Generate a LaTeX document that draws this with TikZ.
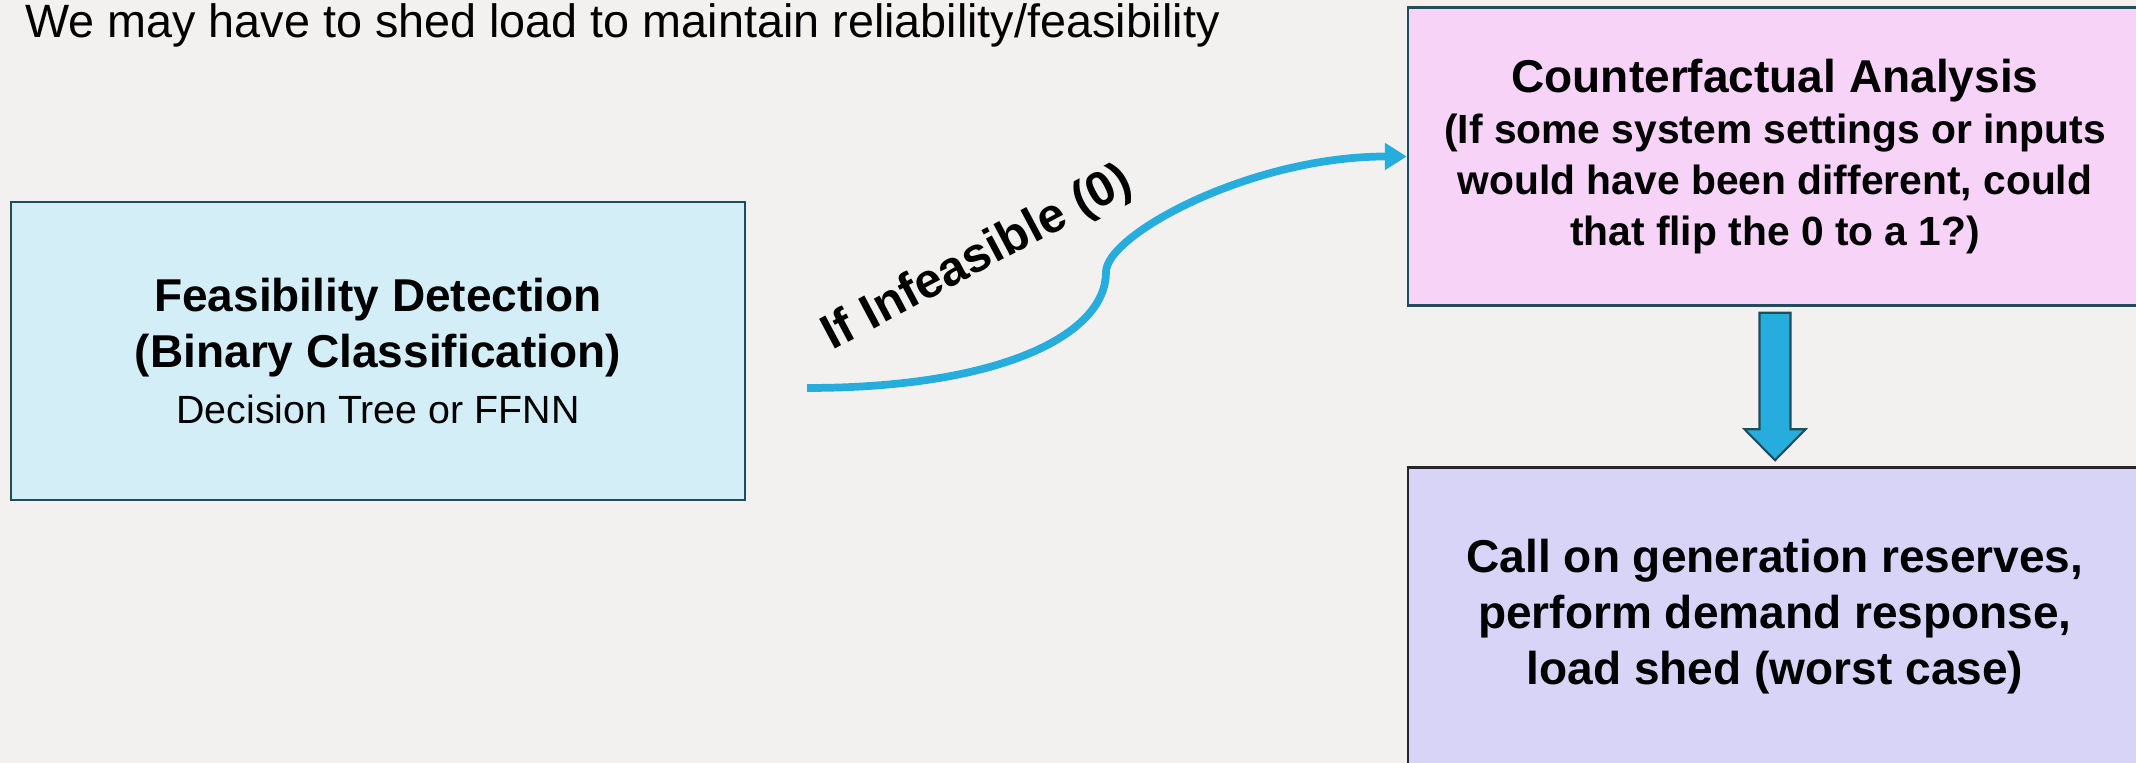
\documentclass[tikz,border=0pt]{standalone}
\usepackage{fontspec}
\setmainfont{Liberation Sans}
\usepackage{tikz}
\usetikzlibrary{arrows.meta}
\usetikzlibrary{calc}
\usepackage{xcolor}

\definecolor{paper}{HTML}{F2F1EF}
\definecolor{boxblue}{HTML}{D3EEF6}
\definecolor{boxpink}{HTML}{F6D3F7}
\definecolor{boxlilac}{HTML}{D8D4F7}
\definecolor{edgeteal}{HTML}{1E4D5C}
\definecolor{flowcyan}{HTML}{27ADDD}

\tikzset{
  stagebox/.style={draw=edgeteal, line width=0.7pt, minimum width=7.34cm,
    minimum height=2.98cm, align=center, inner sep=0pt},
  flowline/.style={flowcyan, line width=2.2pt, -{Triangle[length=0.22cm, width=0.26cm]}},
  blockarrow/.style={fill=flowcyan, draw=edgeteal, line width=0.6pt, line join=miter},
}

\newcommand{\stagefont}{\fontsize{13.1}{15.9}\selectfont\bfseries}

\begin{document}
\begin{tikzpicture}

\useasboundingbox (0,0) rectangle (21.36,7.63);
\fill[paper] (0,0) rectangle (21.36,7.63);

\node[anchor=base west, font=\fontsize{13.3}{16}\selectfont] (headline) at (0.13,7.25)
  {We may have to shed load to maintain reliability/feasibility};

% the three stages
\node[stagebox, fill=boxblue, font=\stagefont] (fd) at (3.78,4.12)
  {Feasibility Detection\\(Binary Classification)\\
   {\mdseries\fontsize{11.2}{15.2}\selectfont Decision Tree or FFNN}};

\node[stagebox, fill=boxpink, font=\fontsize{11.6}{14.5}\selectfont\bfseries] (cfa) at (17.75,6.065)
  {{\fontsize{13.1}{14.5}\selectfont Counterfactual Analysis}\\
   (If some system settings or inputs\\would have been different, could\\that flip the 0 to a 1?)};

\node[stagebox, draw=black!85, fill=boxlilac, font=\stagefont] (act) at (17.75,1.465)
  {Call on generation reserves,\\perform demand response,\\load shed (worst case)};

% curved link into the counterfactual step
\coordinate (from) at (8.07,3.75);
\coordinate (bend) at (11.06,4.91);
\draw[flowline] (from) .. controls +(1.93,0) and +(0,-0.63) .. (bend)
  .. controls +(0,0.37) and +(-1.57,0) .. (cfa.west);

\node[font=\fontsize{13.9}{16}\selectfont\bfseries, rotate=28] (cond) at (9.78,5.04) {If Infeasible (0)};

% block arrow down to the actions
\path (cfa.south) ++(0,-0.06) coordinate (dtop);
\path (act.north) ++(0,0.06) coordinate (dtip);
\draw[blockarrow] (dtop) ++(-0.155,0) -- ++(0.31,0) -- ($(dtip)+(0.155,0.31)$)
  -- ++(0.15,0) -- (dtip) -- ++(-0.305,0.31) -- ++(0.15,0) -- cycle;

\end{tikzpicture}
\end{document}
